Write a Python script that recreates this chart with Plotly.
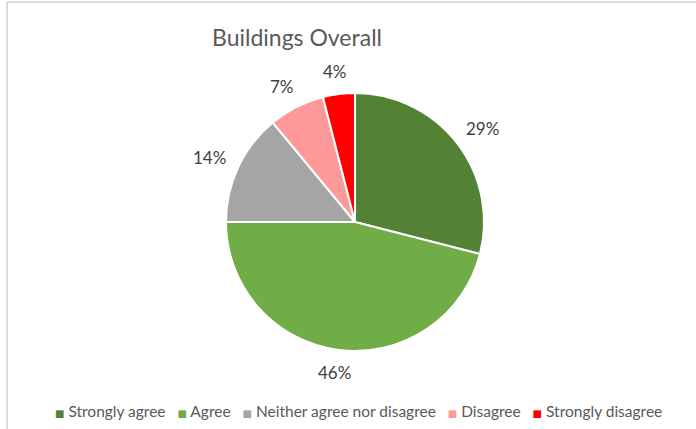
import math
import plotly.graph_objects as go

# Survey responses for buildings overall
categories = ["Strongly agree", "Agree", "Neither agree nor disagree", "Disagree", "Strongly disagree"]
percentages = [29, 46, 14, 7, 4]
slice_colors = ["#548235", "#70AD47", "#A5A5A5", "#FF9999", "#FF0000"]

W, H = 696, 429
cx, cy, r = 355, 222, 129
FONT = "Lato, Roboto, sans-serif"

fig = go.Figure(
    go.Pie(
        labels=categories,
        values=percentages,
        sort=False,
        direction="clockwise",
        rotation=0,
        marker=dict(colors=slice_colors, line=dict(color="white", width=2)),
        textinfo="none",
        hoverinfo="label+percent",
        domain=dict(x=[(cx - r) / W, (cx + r) / W], y=[1 - (cy + r) / H, 1 - (cy - r) / H]),
        showlegend=False,
    )
)

# Percentage labels placed just outside each slice, at the slice's mid angle
annotations = []
total = sum(percentages)
cum = 0
gap = 17
half_w, half_h = 15, 6
for v in percentages:
    theta = 2 * math.pi * (cum + v / 2) / total
    ux, uy = math.sin(theta), -math.cos(theta)
    px = cx + (r + gap) * ux + half_w * ux
    py = cy + (r + gap) * uy + half_h * uy
    annotations.append(dict(
        x=px / W, y=1 - py / H, xref="paper", yref="paper",
        text=f"{v}%", showarrow=False, xanchor="center", yanchor="middle",
        font=dict(size=17, color="#404040", family=FONT),
    ))
    cum += v

# Legend row: colored square followed by the category name
item_gap = "&nbsp;" * 3
legend_items = [
    f"<span style='color:{c};font-size:10px;font-family:DejaVu Sans'>■</span>&nbsp;{name}"
    for name, c in zip(categories, slice_colors)
]
annotations.append(dict(
    x=358 / W, y=1 - 411 / H, xref="paper", yref="paper",
    text=item_gap.join(legend_items), showarrow=False,
    xanchor="center", yanchor="middle",
    font=dict(size=15.5, color="#595959", family=FONT),
))

fig.update_layout(
    width=W,
    height=H,
    margin=dict(l=0, r=0, t=0, b=0),
    paper_bgcolor="white",
    plot_bgcolor="white",
    title=dict(
        text="Buildings Overall",
        x=297 / W,
        xanchor="center",
        y=1 - 38 / H,
        yanchor="middle",
        font=dict(size=23, color="#595959", family=FONT),
    ),
    annotations=annotations,
    shapes=[
        dict(type="line", xref="paper", yref="paper", x0=7 / W, x1=7 / W, y0=0, y1=1 - 2 / H,
             line=dict(color="#dcdcdc", width=2)),
        dict(type="line", xref="paper", yref="paper", x0=7 / W, x1=1, y0=1 - 2 / H, y1=1 - 2 / H,
             line=dict(color="#dcdcdc", width=2)),
    ],
)

fig.write_html("out.html")
